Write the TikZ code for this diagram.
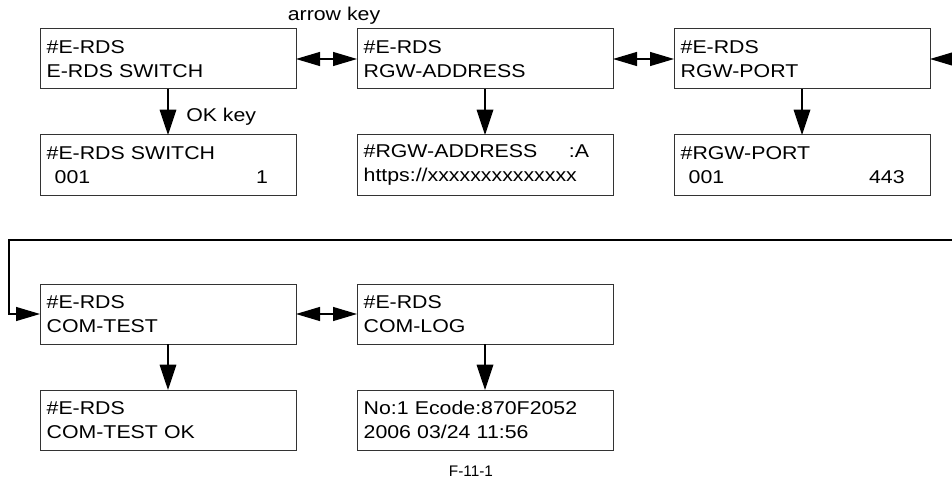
\documentclass[tikz,border=0pt]{standalone}
\usepackage{fontspec}
\newfontfamily\lcdfont[FakeStretch=1.15]{Liberation Sans}
\newfontfamily\capfont{Liberation Sans}
\usepackage{tikz}
\usetikzlibrary{
  arrows.meta, positioning, calc
}
\tikzset{
  lcdbox/.style={
    draw=black!80, line width=0.75pt, fill=white, align=left,
    font=\lcdfont\fontsize{13.9}{18}\selectfont,
    text width=182pt, inner xsep=5pt, inner ysep=2pt, outer sep=0pt,
    minimum width=192pt, minimum height=45pt
  },
  lcdlabel/.style={
    font=\lcdfont\fontsize{13.9}{16}\selectfont, inner sep=0pt
  },
  lcdpair/.style={
    {Triangle[length=18pt,width=10.5pt]}-{Triangle[length=18pt,width=10.5pt]},
    line width=0.9pt
  },
  lcdarrow/.style={
    -{Triangle[length=18pt,width=10.5pt]}, line width=0.9pt
  },
  lcddown/.style={
    -{Triangle[length=19pt,width=12.5pt]}, line width=0.9pt
  },
}

\begin{document}
\begin{tikzpicture}[x=0.75pt, y=-0.75pt]
  \useasboundingbox (0,0) rectangle (952,481);

  % Top row: menu items
  \node[lcdbox] (sw) at (168,59) {\#E-RDS\\E-RDS SWITCH};
  \node[lcdbox, right=45.75pt of sw] (addr) {\#E-RDS\\RGW-ADDRESS};
  \node[lcdbox, right=45.75pt of addr] (port) {\#E-RDS\\RGW-PORT};

  % Settings below each item
  \node[lcdbox, below=34.5pt of sw] (swval)
    {\#E-RDS SWITCH\\\hspace*{6pt}001\hfill 1\rule{16pt}{0pt}};
  \node[lcdbox, below=34.5pt of addr] (addrval)
    {\#RGW-ADDRESS\hfill :A\rule{13pt}{0pt}\\https://xxxxxxxxxxxxxx};
  \node[lcdbox, below=34.5pt of port] (portval)
    {\#RGW-PORT\\\hspace*{6pt}001\hfill 443\rule{14pt}{0pt}};

  % Second row
  \node[lcdbox, below=66.75pt of swval] (test) {\#E-RDS\\COM-TEST};
  \node[lcdbox, right=45.75pt of test] (log) {\#E-RDS\\COM-LOG};
  \node[lcdbox, below=34.5pt of test] (testres) {\#E-RDS\\COM-TEST OK};
  \node[lcdbox, below=34.5pt of log] (logval)
    {No:1 Ecode:870F2052\\2006 03/24 11:56};

  % Key labels
  \node[lcdlabel] (arrowkey) at (334,16) {arrow key};
  \node[lcdlabel, anchor=west] (okkey) at (186,117) {OK key};

  % Arrow key moves
  \draw[lcdpair] (sw) -- (addr);
  \draw[lcdpair] (addr) -- (port);
  \draw[lcdpair] (test) -- (log);
  \coordinate (portin) at (980,59);
  \draw[lcdarrow] (portin) -- (port);

  % OK key moves
  \draw[lcddown] (sw) -- (swval);
  \draw[lcddown] (addr) -- (addrval);
  \draw[lcddown] (port) -- (portval);
  \draw[lcddown] (test) -- (testres);
  \draw[lcddown] (log) -- (logval);

  % Wrap to second row
  \coordinate (wrapin) at (980,240);
  \coordinate (wrapturn) at (9,240);
  \draw[lcdarrow] (wrapin) -- (wrapturn) |- (test);

  \node[font=\capfont\fontsize{11.5}{12}\selectfont] (fig) at (471,471) {F-11-1};
\end{tikzpicture}
\end{document}
